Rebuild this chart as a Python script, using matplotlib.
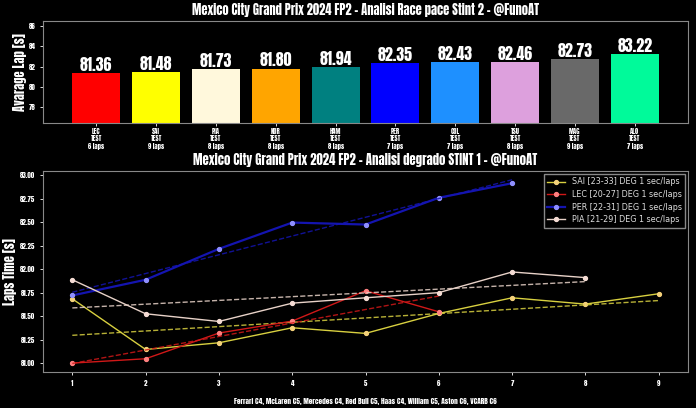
import numpy as np
import matplotlib
matplotlib.use('Agg')
import matplotlib.pyplot as plt
from matplotlib.ticker import FormatStrFormatter

# Top chart: race pace stint 2
drivers = ['LEC', 'SAI', 'PIA', 'NOR', 'HAM', 'PER', 'COL', 'TSU', 'MAG', 'ALO']
avg_lap = [81.36, 81.48, 81.73, 81.80, 81.94, 82.35, 82.43, 82.46, 82.73, 83.22]
n_laps = [6, 9, 8, 8, 8, 7, 7, 8, 9, 7]
bar_colors = ['#ff0000', '#ffff00', '#fff8dc', '#ffa500', '#008080',
              '#0000ff', '#1e90ff', '#dda0dd', '#696969', '#00fa9a']

# Bottom chart: degradation stint 1
sai_laps = [81.684, 81.145, 81.216, 81.376, 81.316, 81.528, 81.695, 81.628, 81.738]
lec_laps = [81.00, 81.046, 81.32, 81.447, 81.77, 81.546]
per_laps = [81.72, 81.887, 82.216, 82.496, 82.475, 82.76, 82.915]
pia_laps = [81.887, 81.525, 81.443, 81.638, 81.695, 81.75, 81.97, 81.91]

stints = [
    ('SAI [23-33] DEG 1 sec/laps', sai_laps, '#d8d040', '#f5d27a', 1.0),
    ('LEC [20-27] DEG 1 sec/laps', lec_laps, '#d01818', '#ff8080', 1.0),
    ('PER [22-31] DEG 1 sec/laps', per_laps, '#1414b0', '#9090ff', 1.6),
    ('PIA [21-29] DEG 1 sec/laps', pia_laps, '#e8d2c8', '#f5dcd4', 1.0),
]

tyres = 'Ferrari C4, McLaren C5, Mercedes C4, Red Bull C5, Haas C4, William C5, Aston C6, VCARB C6'

plt.rcParams['font.family'] = ['Anton', 'DejaVu Sans']

fig = plt.figure(figsize=(6.96, 4.08), dpi=100, facecolor='black')
ax1 = fig.add_axes([43 / 696, 1 - 123 / 408, 645 / 696, 102 / 408])
ax2 = fig.add_axes([43 / 696, 1 - 372 / 408, 645 / 696, 201 / 408])

for ax in (ax1, ax2):
    ax.set_facecolor('black')
    for s in ax.spines.values():
        s.set_color('#888888')
    ax.tick_params(colors='white', labelsize=5, length=2, width=0.6)

# --- bars
x = np.arange(len(drivers))
bars = ax1.bar(x, avg_lap, color=bar_colors, width=0.8)
ax1.set_ylim(min(avg_lap) - 4.95, max(avg_lap) + 3.3)
ax1.set_yticks([78, 80, 82, 84, 86])
ax1.set_xticks(x)
ax1.set_xticklabels([f'{d}\nTEST\n{n} laps' for d, n in zip(drivers, n_laps)],
                    fontsize=4.8, linespacing=1.1)
ax1.tick_params(axis='x', pad=1.5)
for b, v in zip(bars, avg_lap):
    ax1.text(b.get_x() + b.get_width() / 2, v + 0.03, f'{v:.2f}',
             ha='center', va='bottom', color='white', fontsize=11.5)
ax1.set_ylabel('Avarage Lap [s]', color='white', fontsize=9, labelpad=1)
ax1.set_title('Mexico City Grand Prix 2024 FP2 - Analisi Race pace Stint 2 - @FunoAT',
              color='white', fontsize=9, pad=4)

# --- degradation lines
for label, laps, col, mcol, lw in stints:
    lx = np.arange(1, len(laps) + 1)
    ax2.plot(lx, laps, color=col, lw=lw, marker='o', ms=2.8,
             markerfacecolor=mcol, markeredgecolor=mcol, label=label)
    k, q = np.polyfit(lx, laps, 1)
    ax2.plot(lx, k * lx + q, color=col, lw=1.0, ls='--', alpha=0.85)

ax2.set_xticks(range(1, 10))
ax2.set_yticks(np.arange(81.0, 83.01, 0.25))
ax2.yaxis.set_major_formatter(FormatStrFormatter('%.2f'))
ax2.set_ylim(80.905, 83.045)
ax2.set_xlim(0.6, 9.4)
ax2.set_ylabel('Laps Time [s]', color='white', fontsize=9, labelpad=2)
ax2.set_xlabel(tyres, color='white', fontsize=5.2, labelpad=8)
ax2.set_title('Mexico City Grand Prix 2024 FP2 - Analisi degrado STINT 1 - @FunoAT',
              color='white', fontsize=9.2, pad=4)
leg = ax2.legend(loc='upper right', facecolor='black', edgecolor='#888888',
                 prop={'family': 'DejaVu Sans', 'size': 5.8},
                 framealpha=1, fancybox=False, borderaxespad=0.4,
                 handlelength=2.2, labelspacing=0.45)
for t in leg.get_texts():
    t.set_color('#dddddd')

fig.savefig('out.png', dpi=100, facecolor='black')
